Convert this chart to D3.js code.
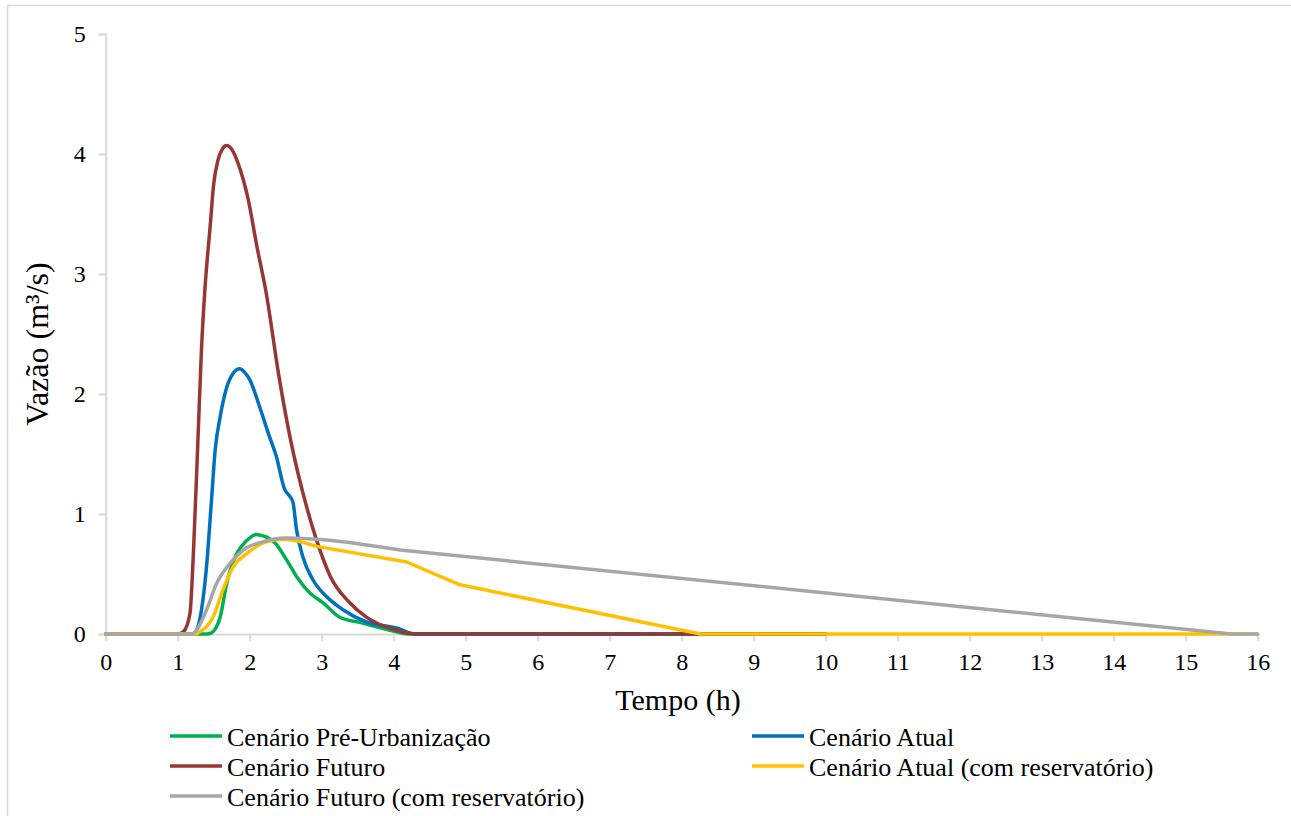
<!DOCTYPE html>
<html>
<head>
<meta charset="utf-8">
<script src="https://cdn.jsdelivr.net/npm/d3@7"></script>
<style>
  html, body { margin: 0; padding: 0; background: #fff; }
  svg text { font-family: "Liberation Serif", "Times New Roman", serif; fill: #000; }
</style>
</head>
<body>
<svg id="chart" width="1291" height="816"></svg>
<script>
// valores (tempo em h, vazão em m³/s)
const preT = [0, 1.0, 1.4, 1.47, 1.53, 1.59, 1.68, 1.75, 1.82, 1.96, 2.09, 2.17, 2.23, 2.35, 2.51, 2.65, 2.84, 3.02, 3.25, 3.58, 3.95, 4.2, 10];
const preV = [0, 0, 0, 0.01, 0.05, 0.14, 0.42, 0.57, 0.67, 0.78, 0.83, 0.82, 0.81, 0.76, 0.62, 0.48, 0.34, 0.26, 0.14, 0.09, 0.03, 0, 0];

const atualT = [0, 1.0, 1.2, 1.26, 1.33, 1.40, 1.47, 1.52, 1.59, 1.70, 1.78, 1.86, 1.93, 2.00, 2.14, 2.26, 2.37, 2.49, 2.54, 2.60, 2.65, 2.74, 2.88, 3.07, 3.30, 3.62, 4.04, 4.3, 10];
const atualV = [0, 0, 0, 0.03, 0.20, 0.56, 1.12, 1.53, 1.81, 2.09, 2.18, 2.21, 2.18, 2.12, 1.89, 1.67, 1.48, 1.20, 1.16, 1.10, 0.87, 0.64, 0.45, 0.31, 0.20, 0.10, 0.05, 0, 0];

const futuroT = [0, 1.0, 1.08, 1.17, 1.22, 1.28, 1.33, 1.38, 1.45, 1.50, 1.56, 1.62, 1.68, 1.76, 1.84, 1.98, 2.10, 2.23, 2.40, 2.56, 2.79, 2.93, 3.12, 3.39, 3.62, 4.04, 4.3, 10];
const futuroV = [0, 0, 0.02, 0.17, 0.70, 1.6, 2.37, 2.89, 3.39, 3.75, 3.95, 4.04, 4.07, 4.03, 3.92, 3.62, 3.23, 2.84, 2.17, 1.64, 1.06, 0.78, 0.48, 0.26, 0.14, 0.03, 0, 0];

const atualResT = [0, 1.0, 1.25, 1.31, 1.40, 1.49, 1.63, 1.77, 1.96, 2.19, 2.47, 2.93, 4.18, 4.92, 8.26, 16];
const atualResV = [0, 0, 0, 0.02, 0.06, 0.14, 0.37, 0.56, 0.67, 0.76, 0.79, 0.73, 0.60, 0.41, 0, 0];

const futuroResT = [0, 1.0, 1.2, 1.26, 1.40, 1.54, 1.73, 1.91, 2.19, 2.49, 4.09, 15.64, 16];
const futuroResV = [0, 0, 0, 0.03, 0.20, 0.42, 0.59, 0.70, 0.77, 0.80, 0.70, 0, 0];

const xTicks = d3.range(0, 17);
const yTicks = [0, 1, 2, 3, 4, 5];

// ordem de desenho = ordem da série no Excel
// smoothTo: índice até onde a linha é suavizada, depois segmentos retos
const series = [
  { name: "Cenário Pré-Urbanização", color: "#00b050", t: preT, v: preV },
  { name: "Cenário Atual", color: "#0070c0", t: atualT, v: atualV },
  { name: "Cenário Futuro", color: "#953735", t: futuroT, v: futuroV },
  { name: "Cenário Atual (com reservatório)", color: "#ffc000", t: atualResT, v: atualResV, smoothTo: 11 },
  { name: "Cenário Futuro (com reservatório)", color: "#a6a6a6", t: futuroResT, v: futuroResV, smoothTo: 10 }
];

const svg = d3.select("#chart");
const axisColor = "#d9d9d9";

// moldura do gráfico
svg.append("rect")
  .attr("x", 7.5).attr("y", 5.5)
  .attr("width", 1320).attr("height", 900)
  .attr("fill", "none").attr("stroke", axisColor).attr("stroke-width", 1.5);

const x = d3.scaleLinear().domain([0, 16]).range([105.7, 1257.7]);
const y = d3.scaleLinear().domain([0, 5]).range([634, 34]);

// eixo Y
const yAxis = svg.append("g")
  .attr("transform", `translate(${x(0)},0)`)
  .call(d3.axisLeft(y).tickValues(yTicks).tickSize(7).tickPadding(13).tickFormat(d3.format("d")));
yAxis.select(".domain").attr("stroke", axisColor).attr("stroke-width", 2);
yAxis.selectAll(".tick line").attr("stroke", axisColor).attr("stroke-width", 2);
yAxis.selectAll(".tick text").attr("font-size", 24).attr("dy", "0.33em");

// eixo X
const xAxis = svg.append("g")
  .attr("transform", `translate(0,${y(0)})`)
  .call(d3.axisBottom(x).tickValues(xTicks).tickSize(7).tickPadding(12).tickFormat(d3.format("d")));
xAxis.select(".domain").attr("stroke", axisColor).attr("stroke-width", 2);
xAxis.selectAll(".tick line").attr("stroke", axisColor).attr("stroke-width", 2);
xAxis.selectAll(".tick text").attr("font-size", 24);

// títulos dos eixos
svg.append("text")
  .attr("x", 678).attr("y", 710)
  .attr("text-anchor", "middle")
  .attr("font-size", 30)
  .text("Tempo (h)");

svg.append("text")
  .attr("transform", "translate(48,344) rotate(-90)")
  .attr("text-anchor", "middle")
  .attr("font-size", 32)
  .text("Vazão (m³/s)");

// linhas
const smooth = d3.line().x(d => x(d[0])).y(d => y(d[1])).curve(d3.curveMonotoneX);
const straight = d3.line().x(d => x(d[0])).y(d => y(d[1]));

function pathFor(s) {
  const pts = s.t.map((t, i) => [t, s.v[i]]);
  if (s.smoothTo == null) return smooth(pts);
  return smooth(pts.slice(0, s.smoothTo + 1)) + straight(pts.slice(s.smoothTo)).replace(/^M/, "L");
}

svg.append("g").selectAll("path")
  .data(series)
  .join("path")
  .attr("d", pathFor)
  .attr("fill", "none")
  .attr("stroke", s => s.color)
  .attr("stroke-width", 3.5)
  .attr("stroke-linejoin", "round")
  .attr("stroke-linecap", "round");

// legenda (duas colunas, preenchida por linhas)
const legendCols = [170, 752];
const legendRows = [736, 766, 796];
const legend = svg.append("g");
series.forEach((s, i) => {
  const cx = legendCols[i % 2];
  const cy = legendRows[Math.floor(i / 2)];
  legend.append("line")
    .attr("x1", cx).attr("x2", cx + 52)
    .attr("y1", cy).attr("y2", cy)
    .attr("stroke", s.color).attr("stroke-width", 3.5);
  legend.append("text")
    .attr("x", cx + 57).attr("y", cy + 10)
    .attr("font-size", 26)
    .text(s.name);
});
</script>
</body>
</html>
